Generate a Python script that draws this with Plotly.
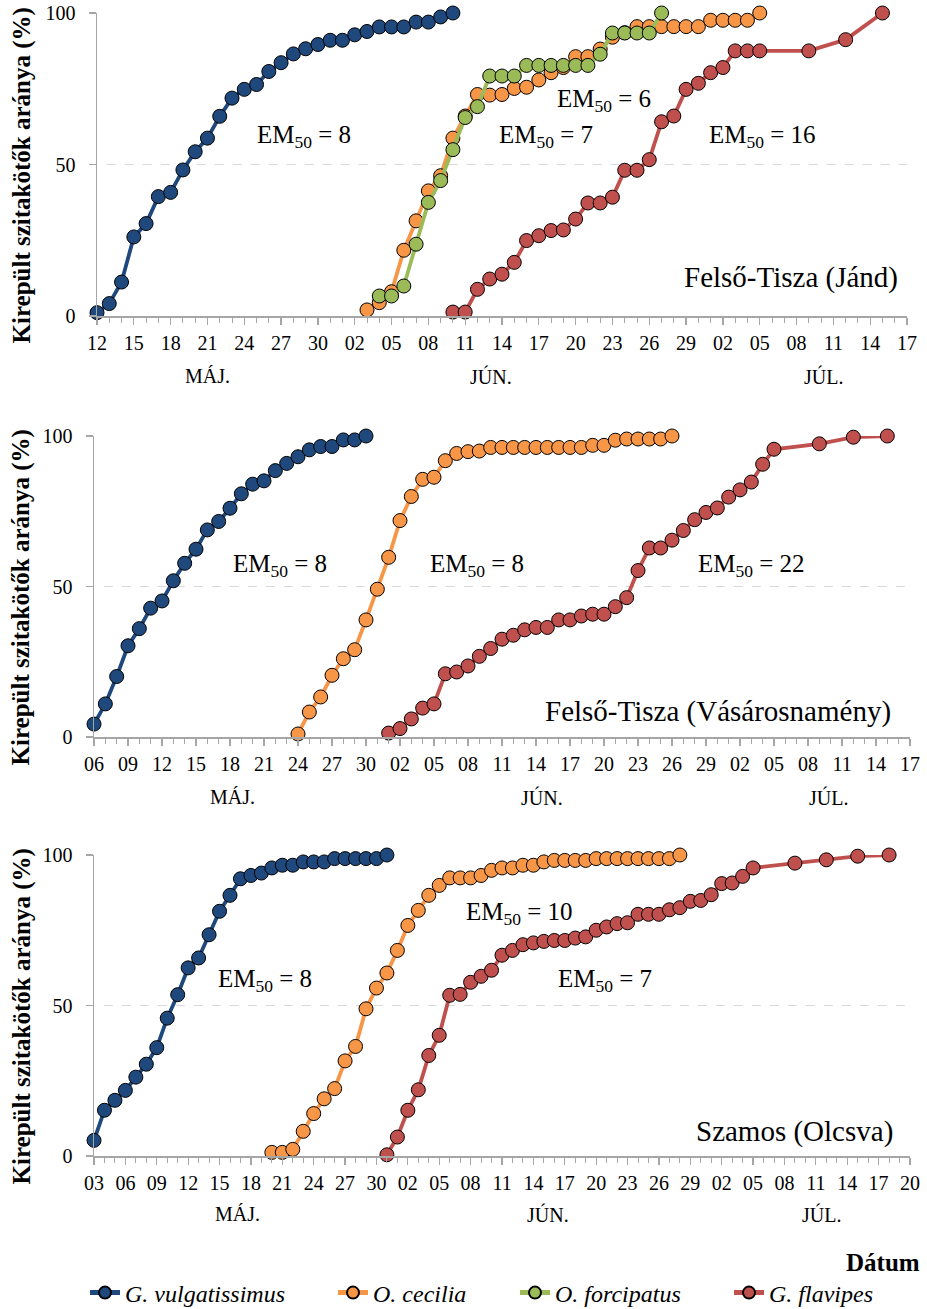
import plotly.graph_objects as go
import pandas as pd

YEAR = 2012
W, H = 927, 1309
FONT = "Liberation Serif"


def day_range(start, end):
    return [d.strftime("%Y-%m-%d") for d in pd.date_range(f"{YEAR}-{start}", f"{YEAR}-{end}")]


def days(*mmdd):
    return [f"{YEAR}-{d}" for d in mmdd]


SPECIES = ["<i>G. vulgatissimus</i>", "<i>O. cecilia</i>", "<i>O. forcipatus</i>", "<i>G. flavipes</i>"]
COLORS = ["#1F497D", "#F79646", "#9BBB59", "#C0504D"]

# ---------------- Panel 1: Felső-Tisza (Jánd) ----------------
jand_gv_dates = day_range("05-12", "06-10")
jand_gv = [1.1, 4.1, 11.2, 26.1, 30.5, 39.4, 40.8, 48.2, 54.2, 58.7, 65.9, 71.9, 74.8, 76.4, 80.7,
           83.6, 86.5, 88.2, 89.6, 91.0, 91.0, 92.8, 93.9, 95.4, 95.4, 95.4, 97.0, 97.0, 98.7, 100]
jand_oc_dates = day_range("06-03", "07-05")
jand_oc = [2.0, 4.4, 8.0, 21.7, 31.4, 41.3, 46.3, 58.7, 66.0, 73.1, 72.9, 73.1, 75.1, 75.5, 77.9,
           80.3, 82.0, 85.6, 85.6, 88.1, 92.0, 93.5, 95.5, 95.5, 95.5, 95.5, 95.5, 95.5, 97.6, 97.6,
           97.6, 97.6, 100]
jand_of_dates = day_range("06-04", "06-27")
jand_of = [6.6, 6.6, 9.9, 23.7, 37.5, 44.7, 54.9, 65.5, 69.1, 79.2, 79.2, 79.2, 82.7, 82.7, 82.7,
           82.7, 82.7, 82.7, 86.4, 93.4, 93.4, 93.4, 93.4, 100]
jand_gf_dates = day_range("06-10", "07-05") + days("07-09", "07-12", "07-15")
jand_gf = [1.3, 1.3, 8.8, 12.2, 13.8, 17.7, 24.9, 26.5, 28.2, 28.4, 32.0, 37.3, 37.3, 39.2, 48.1,
           48.1, 51.6, 64.1, 66.0, 74.8, 76.8, 80.3, 82.0, 87.5, 87.5, 87.5, 87.5, 91.2, 100]

# ---------------- Panel 2: Felső-Tisza (Vásárosnamény) ----------------
vas_gv_dates = day_range("05-06", "05-30")
vas_gv = [4.3, 11.0, 20.1, 30.3, 36.0, 42.8, 45.2, 51.9, 57.7, 62.4, 68.8, 71.6, 76.0, 80.8, 84.0,
          85.1, 88.5, 90.9, 93.1, 95.4, 96.5, 96.5, 98.7, 98.7, 100]
vas_oc_dates = day_range("05-24", "06-26")
vas_oc = [1.0, 8.3, 13.3, 20.5, 26.0, 29.0, 38.9, 49.1, 59.7, 71.9, 79.9, 85.6, 86.3, 91.8, 94.2,
          94.8, 95.0, 96.2, 96.2, 96.2, 96.2, 96.2, 96.2, 96.2, 96.2, 96.2, 96.9, 96.9, 98.6, 99.0,
          99.0, 99.0, 99.0, 100]
vas_gf_dates = day_range("06-01", "07-05") + days("07-09", "07-12", "07-15")
vas_gf = [1.3, 2.8, 6.0, 9.6, 11.0, 21.0, 21.6, 23.6, 26.8, 29.4, 32.5, 33.8, 35.6, 36.4, 36.4,
          38.9, 38.9, 40.2, 40.8, 40.8, 43.3, 46.3, 55.3, 62.8, 62.8, 65.4, 68.6, 72.2, 74.6, 76.1,
          79.7, 82.1, 84.7, 90.6, 95.6, 97.4, 99.6, 100]

# ---------------- Panel 3: Szamos (Olcsva) ----------------
olc_gv_dates = day_range("05-03", "05-31")
olc_gv = [5.2, 15.2, 18.5, 21.8, 26.2, 30.5, 36.0, 45.8, 53.6, 62.5, 65.8, 73.5, 81.3, 86.6, 92.1,
          93.2, 94.0, 95.7, 96.6, 96.6, 97.7, 97.7, 97.7, 98.8, 98.8, 98.8, 98.8, 98.8, 100]
olc_oc_dates = day_range("05-20", "06-28")
olc_oc = [1.2, 1.2, 2.2, 8.2, 14.1, 19.0, 22.4, 31.6, 36.4, 48.9, 55.8, 60.8, 68.3, 76.6, 81.6,
          86.6, 89.9, 92.4, 92.4, 92.4, 93.2, 94.9, 95.7, 95.7, 96.6, 96.6, 97.7, 98.2, 98.2, 98.2,
          98.2, 98.8, 98.8, 98.8, 98.8, 98.8, 98.8, 98.8, 98.8, 100]
olc_gf_dates = day_range("05-31", "07-05") + days("07-09", "07-12", "07-15", "07-18")
olc_gf = [0.4, 6.3, 15.2, 22.0, 33.4, 40.1, 53.4, 53.7, 57.7, 59.7, 61.7, 66.7, 68.3, 70.2, 70.8,
          71.3, 71.6, 71.6, 72.4, 72.8, 75.0, 76.1, 77.2, 77.5, 80.3, 80.3, 80.3, 81.8, 82.5, 84.6,
          84.9, 86.8, 90.5, 90.7, 92.9, 95.7, 97.3, 98.4, 99.6, 100]

PANELS = [
    dict(series=[(0, jand_gv_dates, jand_gv), (1, jand_oc_dates, jand_oc),
                 (2, jand_of_dates, jand_of), (3, jand_gf_dates, jand_gf)],
         xrange=[f"{YEAR}-05-12", f"{YEAR}-07-17"]),
    dict(series=[(0, vas_gv_dates, vas_gv), (1, vas_oc_dates, vas_oc), (3, vas_gf_dates, vas_gf)],
         xrange=[f"{YEAR}-05-06", f"{YEAR}-07-17"]),
    dict(series=[(0, olc_gv_dates, olc_gv), (1, olc_oc_dates, olc_oc), (3, olc_gf_dates, olc_gf)],
         xrange=[f"{YEAR}-05-03", f"{YEAR}-07-20"]),
]

# pixel boxes of the plot areas (left, right, top, bottom)
BOXES = [(97, 907, 13, 316), (94, 910, 436, 737), (94, 910, 855, 1156)]

# legend text start positions (px)
LEGEND_TEXT_X = [125, 373, 555, 769]

fig = go.Figure()
shown = set()
for p, panel in enumerate(PANELS):
    sfx = "" if p == 0 else str(p + 1)
    for (si, dts, vals) in panel["series"]:
        show = si not in shown
        shown.add(si)
        fig.add_trace(go.Scatter(
            x=dts, y=vals, mode="lines+markers", name=SPECIES[si],
            line=dict(color=COLORS[si], width=3.8),
            marker=dict(size=14, color=COLORS[si], line=dict(color="black", width=1)),
            xaxis="x" + sfx, yaxis="y" + sfx, cliponaxis=False,
            showlegend=show, legend="legend" if si == 0 else f"legend{si + 1}",
        ))

AX = "#A6A6A6"
layout = dict(width=W, height=H, margin=dict(l=0, r=0, t=0, b=0, autoexpand=False),
              plot_bgcolor="white", paper_bgcolor="white",
              font=dict(family=FONT, color="black"), shapes=[], annotations=[])

for p, panel in enumerate(PANELS):
    sfx = "" if p == 0 else str(p + 1)
    l, r, t, b = BOXES[p]
    rng = panel["xrange"]
    layout["xaxis" + sfx] = dict(
        domain=[l / W, r / W], anchor="y" + sfx, type="date", range=rng,
        tick0=rng[0], dtick=3 * 86400000, tickformat="%d",
        ticks="outside", ticklen=7, tickwidth=1.2, tickcolor=AX,
        showline=True, linecolor=AX, linewidth=1.5, showgrid=False, zeroline=False,
        tickfont=dict(family=FONT, size=20, color="black"), ticklabelstandoff=1,
        minor=dict(dtick=86400000, tick0=rng[0], ticks="outside", ticklen=5,
                   tickcolor=AX, tickwidth=1, showgrid=False),
        automargin=False, fixedrange=True)
    layout["yaxis" + sfx] = dict(
        domain=[1 - b / H, 1 - t / H], anchor="x" + sfx, range=[0, 100],
        tickvals=[0, 50, 100], ticks="outside", ticklen=7, tickwidth=1.2, tickcolor=AX,
        showline=True, linecolor=AX, linewidth=1.5, showgrid=False, zeroline=False,
        tickfont=dict(family=FONT, size=20, color="black"), ticklabelstandoff=9,
        automargin=False, fixedrange=True)
    layout["shapes"].append(dict(type="line", xref=f"x{sfx} domain", yref="y" + sfx,
                                 x0=0.012, x1=1, y0=50, y1=50, layer="below",
                                 line=dict(color="#D9D9D9", width=1, dash="dash")))
    # y-axis title
    layout["annotations"].append(dict(
        text="<b>Kirepült szitakötők aránya (%)</b>", textangle=-90, showarrow=False,
        xref="paper", yref="paper", x=21 / W, y=1 - ((t + b) / 2 + 11) / H,
        xanchor="center", yanchor="middle", font=dict(family=FONT, size=25)))


def ann(text, px, py, size, xanchor="center", bold=False):
    if bold:
        text = f"<b>{text}</b>"
    layout["annotations"].append(dict(
        text=text, x=px / W, y=1 - py / H, xref="paper", yref="paper", showarrow=False,
        xanchor=xanchor, yanchor="middle", font=dict(family=FONT, size=size, color="black")))


EM = "EM<sub>50</sub> = {}"
# panel 1
ann(EM.format(8), 304, 136, 25)
ann(EM.format(7), 546, 136, 25)
ann(EM.format(6), 604, 100, 25)
ann(EM.format(16), 762, 136, 25)
ann("Felső-Tisza (Jánd)", 900, 277, 29, xanchor="right")
# panel 2
ann(EM.format(8), 280, 565, 25)
ann(EM.format(8), 477, 565, 25)
ann(EM.format(22), 751, 565, 25)
ann("Felső-Tisza (Vásárosnamény)", 893, 711, 29, xanchor="right")
# panel 3
ann(EM.format(8), 265, 980, 25)
ann(EM.format(10), 519, 913, 25)
ann(EM.format(7), 605, 980, 25)
ann("Szamos (Olcsva)", 895, 1131, 29, xanchor="right")

# month labels
MONTHS = ["MÁJ.", "JÚN.", "JÚL."]
MONTH_POS = [([207, 491, 823], 376), ([232, 542, 828], 797), ([237, 548, 821], 1214)]
for xs, y in MONTH_POS:
    for m, x in zip(MONTHS, xs):
        ann(m, x, y, 20)

ann("Dátum", 922, 1262, 25, xanchor="right", bold=True)

# legends (one per species so each can sit where the reference has it)
for i, tx in enumerate(LEGEND_TEXT_X):
    key = "legend" if i == 0 else f"legend{i + 1}"
    layout[key] = dict(x=(tx - 40) / W, y=1 - 1293 / H, xanchor="left", yanchor="middle",
                       orientation="h", bgcolor="rgba(0,0,0,0)", borderwidth=0,
                       font=dict(family=FONT, size=24, color="black"),
                       itemsizing="constant", tracegroupgap=0)

fig.update_layout(**layout)
fig.write_html(
    "out.html",
    config=dict(displayModeBar=False, staticPlot=True),
    post_script="document.body.style.margin='0';document.body.style.overflow='hidden';",
)
